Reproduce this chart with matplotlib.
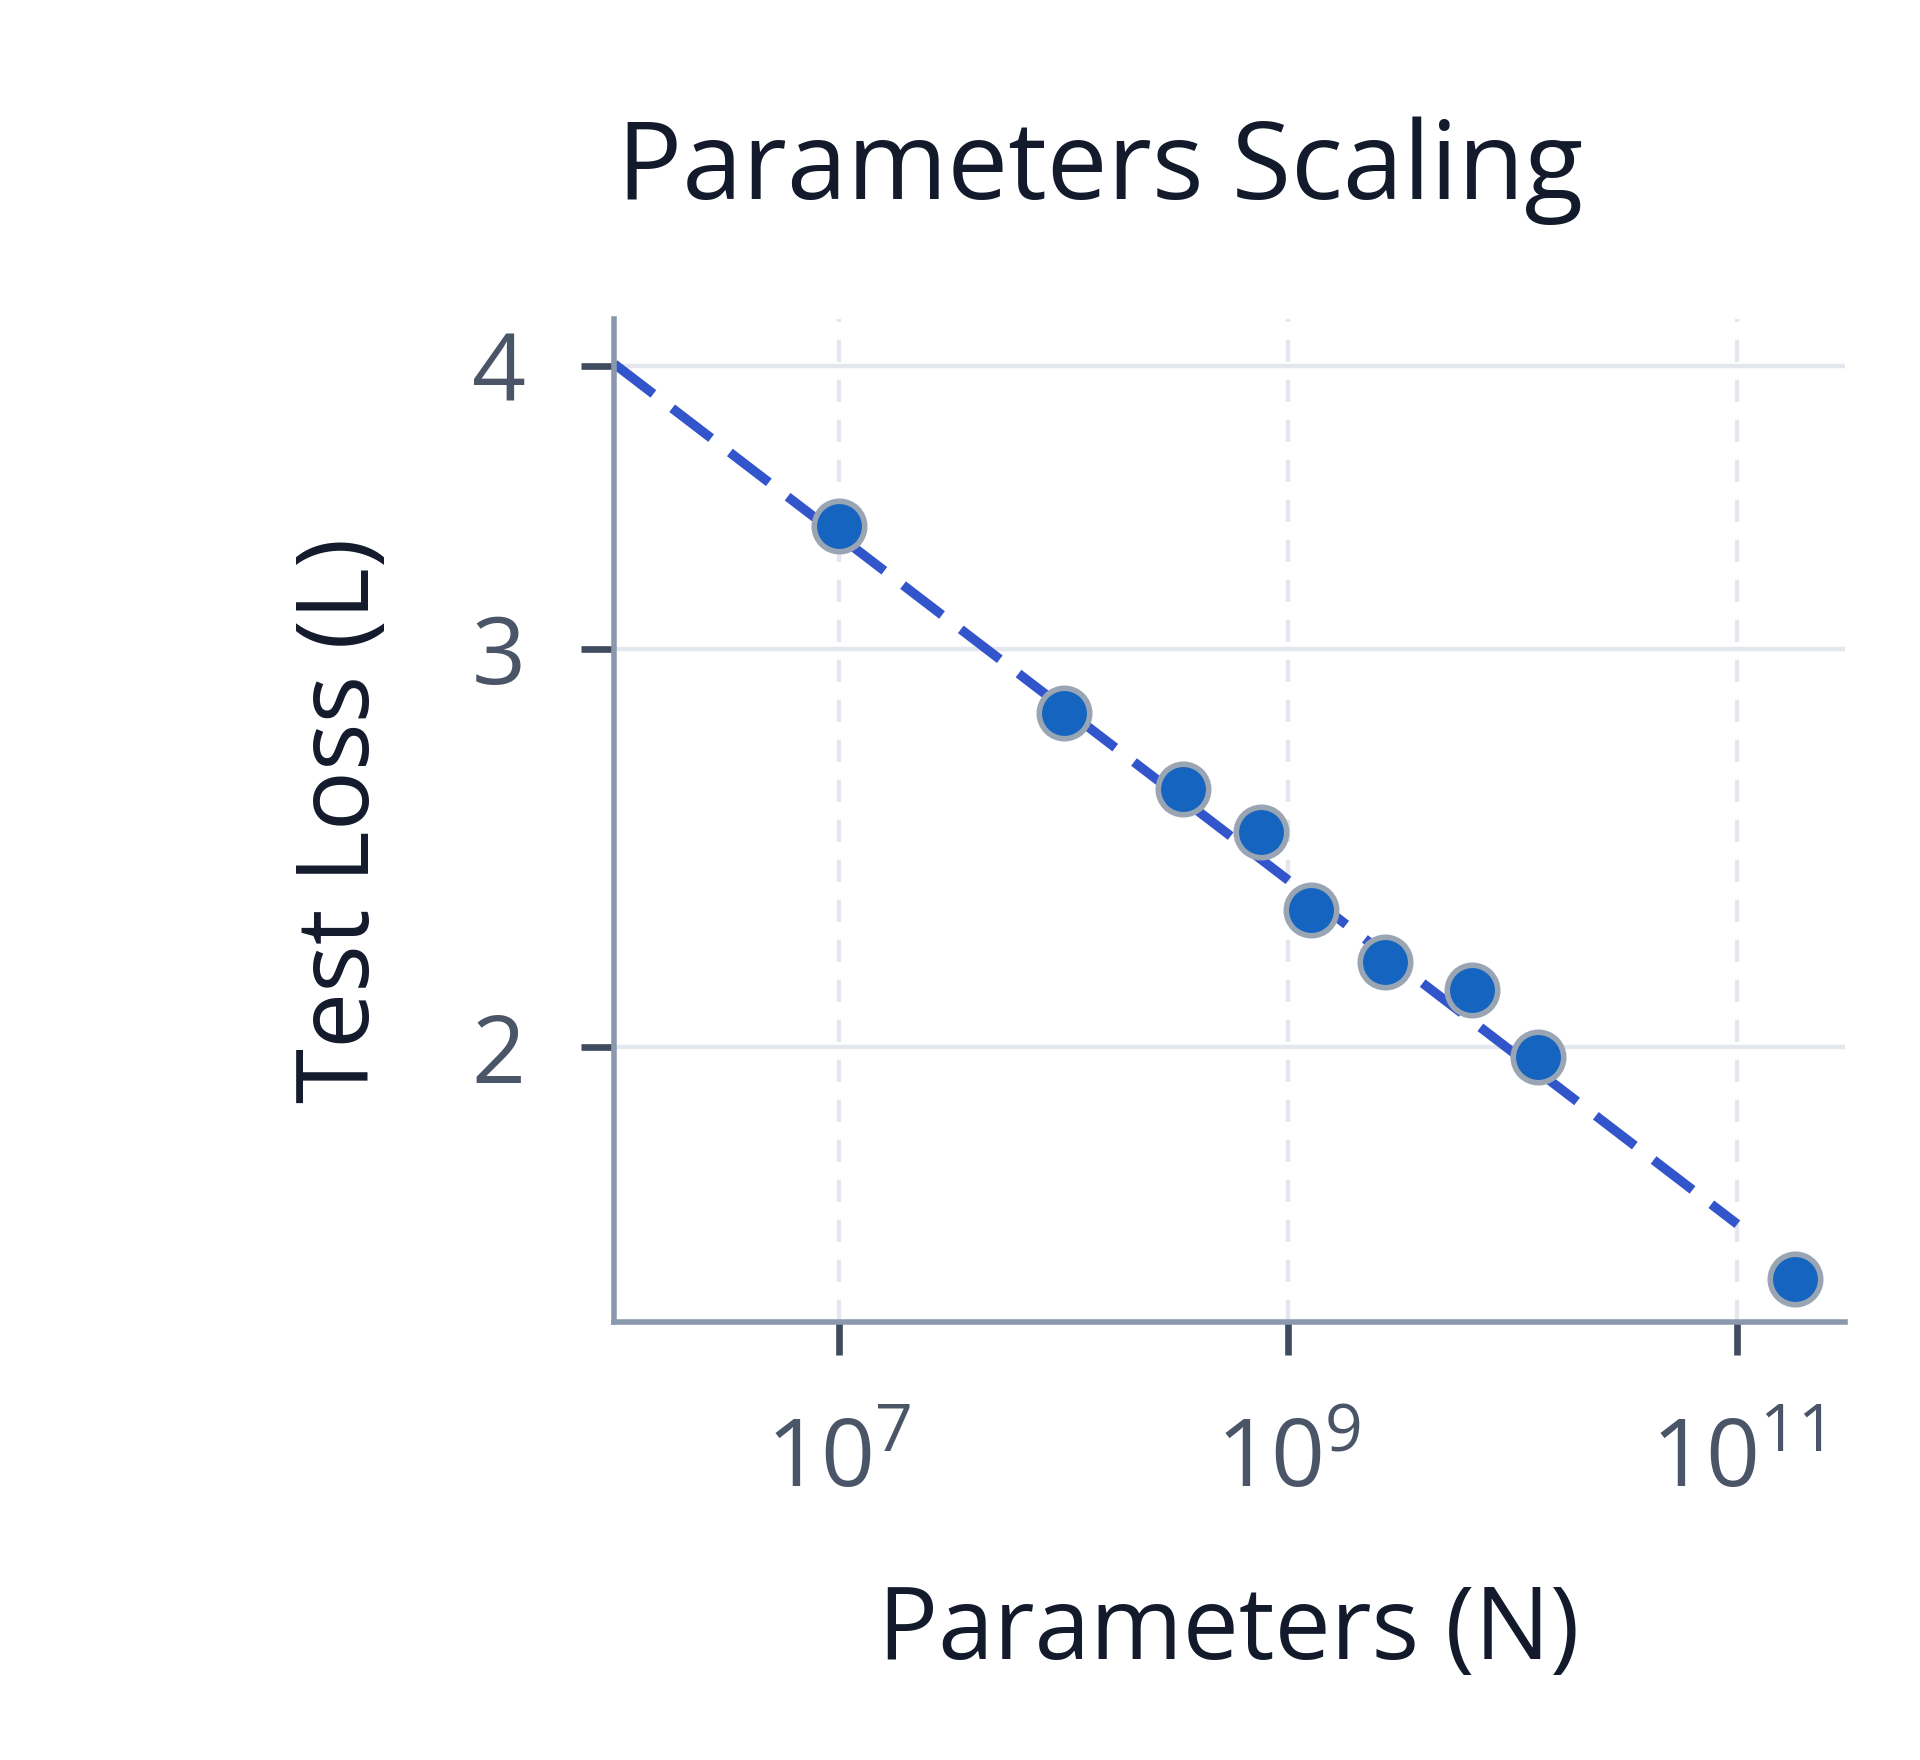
import math
import matplotlib
matplotlib.use('Agg')
import matplotlib.pyplot as plt
from matplotlib.ticker import FixedLocator, NullLocator, FuncFormatter

plt.rcParams['font.family'] = ['Open Sans', 'DejaVu Sans']
plt.rcParams['mathtext.fontset'] = 'custom'
plt.rcParams['mathtext.rm'] = 'Open Sans'
plt.rcParams['mathtext.it'] = 'Open Sans'
plt.rcParams['mathtext.bf'] = 'Open Sans'

# data
params = [1.0e7, 1.0e8, 3.4e8, 7.6e8, 1.27e9, 2.7e9, 6.6e9, 1.3e10, 1.8e11]
loss = [3.40, 2.81, 2.60, 2.49, 2.30, 2.18, 2.12, 1.98, 1.58]
fit_params = [1.0e6, 1.0e11]
fit_loss = [4.01, 1.67]
x_ticks = [1e7, 1e9, 1e11]
y_ticks = [2, 3, 4]

fig = plt.figure(figsize=(9.6, 8.8), dpi=200)
ax = fig.add_axes([0.320, 0.249, 0.641, 0.570])
ax.set_xscale('log')
ax.set_yscale('log')

# fitted power law + measured points
ax.plot(fit_params, fit_loss, linestyle=(0, (5.2, 2.5)), color='#3355cc',
        linewidth=3.4, zorder=2)
ax.scatter(params, loss, s=330, color='#1565c0', edgecolors='#9aa5b4',
           linewidths=2.0, zorder=3)

ax.set_xlim(1.0e6, 10**11.48)
ax.set_ylim(1.512, 4.20)

ax.xaxis.set_major_locator(FixedLocator(x_ticks))
ax.xaxis.set_minor_locator(NullLocator())
ax.yaxis.set_major_locator(FixedLocator(y_ticks))
ax.yaxis.set_minor_locator(NullLocator())
ax.xaxis.set_major_formatter(FuncFormatter(
    lambda v, p: r'$\mathregular{10^{%d}}$' % round(math.log10(v))))
ax.yaxis.set_major_formatter(FuncFormatter(lambda v, p: '%d' % v))

ax.grid(axis='y', color='#e4e8ee', linewidth=1.6, linestyle='-', zorder=0)
ax.grid(axis='x', color='#e4e8ee', linewidth=1.6, linestyle=(0, (5, 4)), zorder=0)
ax.set_axisbelow(True)

for side in ['top', 'right']:
    ax.spines[side].set_visible(False)
for side in ['left', 'bottom']:
    ax.spines[side].set_color('#8a98ae')
    ax.spines[side].set_linewidth(2.0)

ax.tick_params(axis='both', which='major', length=12, width=2.4,
               color='#3f4b5e', labelcolor='#4a5567', labelsize=34)
ax.tick_params(axis='y', pad=20)
ax.tick_params(axis='x', pad=22)

fig.text(0.573, 0.887, 'Parameters Scaling', fontsize=39, color='#121a2b',
         ha='center', va='baseline')
fig.text(0.640, 0.0574, 'Parameters (N)', fontsize=36, color='#121a2b',
         ha='center', va='baseline')
fig.text(0.1786, 0.534, 'Test Loss (L)', fontsize=36, color='#121a2b',
         ha='center', va='center', rotation=90)

plt.savefig('out.png', dpi=200)
